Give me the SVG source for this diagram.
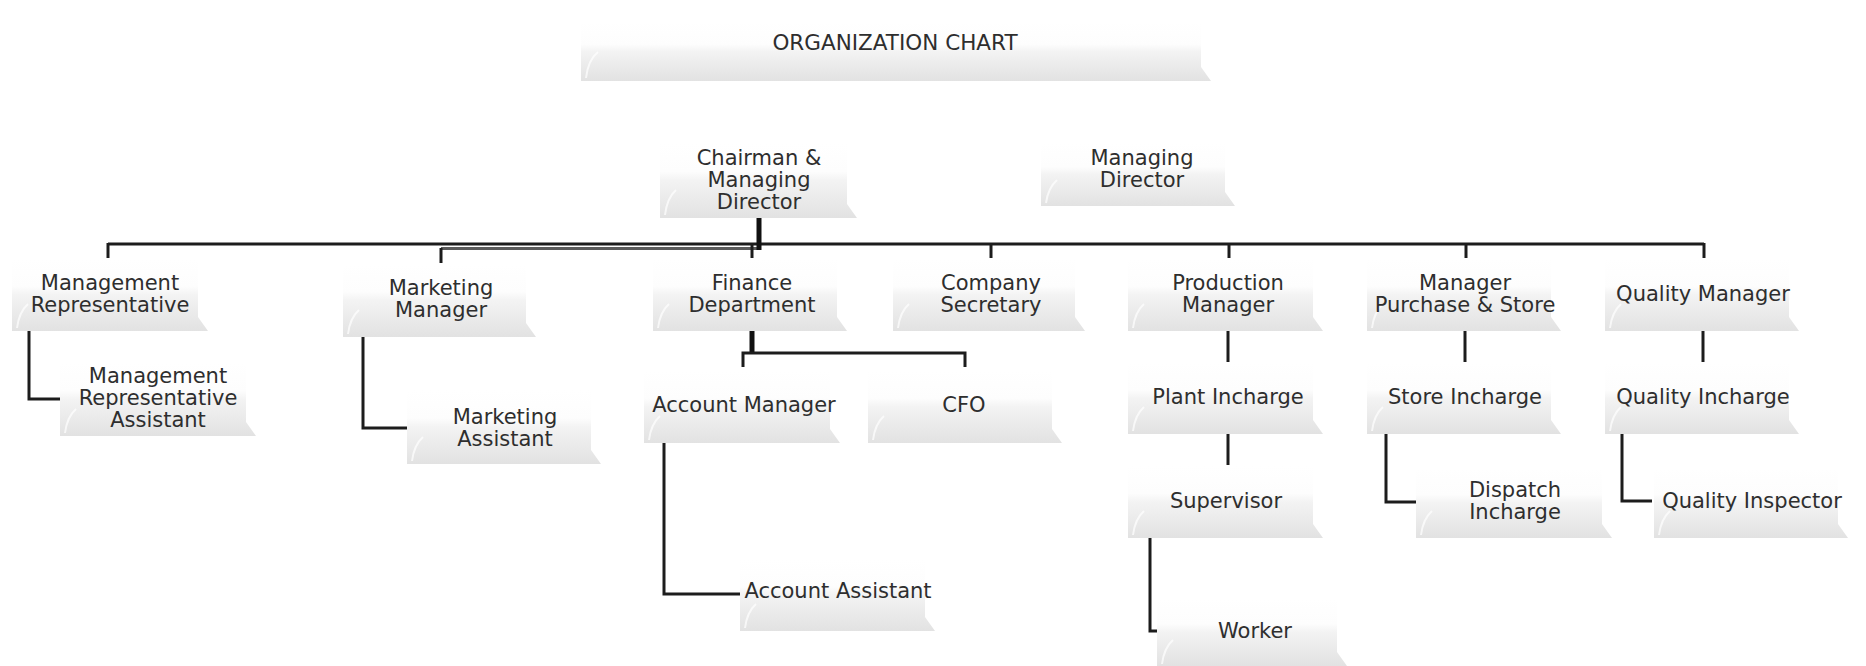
<svg xmlns="http://www.w3.org/2000/svg" width="1866" height="666" viewBox="0 0 1866 666">
<defs>
<linearGradient id="bev" x1="0" y1="0" x2="0" y2="1">
<stop offset="0" stop-color="#ffffff"/>
<stop offset="0.38" stop-color="#fdfdfd"/>
<stop offset="0.5" stop-color="#f3f3f3"/>
<stop offset="1" stop-color="#e2e2e2"/>
</linearGradient>
<style>
.box{fill:url(#bev);}
.hl{fill:none;stroke:#ffffff;stroke-width:2;opacity:0.7;}
.t{font-family:"DejaVu Sans",Verdana,sans-serif;font-size:21px;fill:#2e2e2e;text-anchor:middle;}
.tt{font-family:"DejaVu Sans",Verdana,sans-serif;font-size:21.5px;fill:#2e2e2e;text-anchor:middle;}
.c{fill:none;stroke:#1c1c1c;stroke-width:3;}
.ct{fill:none;stroke:#111;stroke-width:5;}
</style>
</defs>
<rect width="1866" height="666" fill="#ffffff"/>

<g id="connectors">
<line class="c" x1="108" y1="244" x2="1704" y2="244"/>
<line x1="441" y1="248.5" x2="759" y2="248.5" stroke="#5a5a5a" stroke-width="3"/>
<line class="ct" x1="759" y1="218" x2="759" y2="250"/>
<line class="c" x1="108" y1="243" x2="108" y2="258"/>
<line class="c" x1="441" y1="248" x2="441" y2="263"/>
<line class="c" x1="752" y1="243" x2="752" y2="258"/>
<line class="c" x1="991" y1="243" x2="991" y2="258"/>
<line class="c" x1="1229" y1="243" x2="1229" y2="258"/>
<line class="c" x1="1466" y1="243" x2="1466" y2="258"/>
<line class="c" x1="1704" y1="243" x2="1704" y2="258"/>
<polyline class="c" points="29,331 29,399 60,399"/>
<polyline class="c" points="363,337 363,428 407,428"/>
<line class="ct" x1="752" y1="331" x2="752" y2="354"/>
<polyline class="c" points="743,367 743,353 965,353 965,367"/>
<polyline class="c" points="664,443 664,594 743,594"/>
<line class="c" x1="1228" y1="331" x2="1228" y2="362"/>
<line class="c" x1="1228" y1="434" x2="1228" y2="465"/>
<polyline class="c" points="1150,538 1150,631 1157,631"/>
<line class="c" x1="1465" y1="331" x2="1465" y2="362"/>
<polyline class="c" points="1386,434 1386,502 1416,502"/>
<line class="c" x1="1703" y1="331" x2="1703" y2="362"/>
<polyline class="c" points="1622,434 1622,501 1652,501"/>
</g>

<g id="title">
<path class="box" d="M581,22 H1201 V67 L1211,81 H581 Z"/>
<path class="hl" d="M586,78 Q588,60 598,52"/>
<text class="tt" x="895" y="50">ORGANIZATION CHART</text>
</g>

<g id="chairman">
<path class="box" d="M660,143 H847 V204 L857,218 H660 Z"/>
<path class="hl" d="M665,215 Q667,198 676,190"/>
<text class="t" x="759" y="165">Chairman &amp;</text>
<text class="t" x="759" y="187">Managing</text>
<text class="t" x="759" y="209">Director</text>
</g>

<g id="managing-director">
<path class="box" d="M1041,143 H1225 V192 L1235,206 H1041 Z"/>
<path class="hl" d="M1046,203 Q1048,188 1057,180"/>
<text class="t" x="1142" y="165">Managing</text>
<text class="t" x="1142" y="187">Director</text>
</g>

<g id="mgmt-rep">
<path class="box" d="M12,259 H198 V317 L208,331 H12 Z"/>
<path class="hl" d="M17,328 Q19,312 28,304"/>
<text class="t" x="110" y="290">Management</text>
<text class="t" x="110" y="312">Representative</text>
</g>

<g id="marketing-manager">
<path class="box" d="M343,264 H526 V323 L536,337 H343 Z"/>
<path class="hl" d="M348,334 Q350,318 359,310"/>
<text class="t" x="441" y="295">Marketing</text>
<text class="t" x="441" y="317">Manager</text>
</g>

<g id="finance">
<path class="box" d="M653,259 H837 V317 L847,331 H653 Z"/>
<path class="hl" d="M658,328 Q660,312 669,304"/>
<text class="t" x="752" y="290">Finance</text>
<text class="t" x="752" y="312">Department</text>
</g>

<g id="company-secretary">
<path class="box" d="M893,259 H1075 V317 L1085,331 H893 Z"/>
<path class="hl" d="M898,328 Q900,312 909,304"/>
<text class="t" x="991" y="290">Company</text>
<text class="t" x="991" y="312">Secretary</text>
</g>

<g id="production-manager">
<path class="box" d="M1128,259 H1313 V317 L1323,331 H1128 Z"/>
<path class="hl" d="M1133,328 Q1135,312 1144,304"/>
<text class="t" x="1228" y="290">Production</text>
<text class="t" x="1228" y="312">Manager</text>
</g>

<g id="purchase-store">
<path class="box" d="M1367,259 H1551 V317 L1561,331 H1367 Z"/>
<path class="hl" d="M1372,328 Q1374,312 1383,304"/>
<text class="t" x="1465" y="290">Manager</text>
<text class="t" x="1465" y="312">Purchase &amp; Store</text>
</g>

<g id="quality-manager">
<path class="box" d="M1605,259 H1789 V317 L1799,331 H1605 Z"/>
<path class="hl" d="M1610,328 Q1612,312 1621,304"/>
<text class="t" x="1703" y="301">Quality Manager</text>
</g>

<g id="mgmt-rep-assistant">
<path class="box" d="M60,363 H246 V422 L256,436 H60 Z"/>
<path class="hl" d="M65,433 Q67,417 76,409"/>
<text class="t" x="158" y="383">Management</text>
<text class="t" x="158" y="405">Representative</text>
<text class="t" x="158" y="427">Assistant</text>
</g>

<g id="marketing-assistant">
<path class="box" d="M407,390 H591 V450 L601,464 H407 Z"/>
<path class="hl" d="M412,461 Q414,445 423,437"/>
<text class="t" x="505" y="424">Marketing</text>
<text class="t" x="505" y="446">Assistant</text>
</g>

<g id="account-manager">
<path class="box" d="M644,371 H830 V429 L840,443 H644 Z"/>
<path class="hl" d="M649,440 Q651,424 660,416"/>
<text class="t" x="744" y="412">Account Manager</text>
</g>

<g id="cfo">
<path class="box" d="M868,371 H1052 V429 L1062,443 H868 Z"/>
<path class="hl" d="M873,440 Q875,424 884,416"/>
<text class="t" x="964" y="412">CFO</text>
</g>

<g id="account-assistant">
<path class="box" d="M740,559 H925 V617 L935,631 H740 Z"/>
<path class="hl" d="M745,628 Q747,612 756,604"/>
<text class="t" x="838" y="598">Account Assistant</text>
</g>

<g id="plant-incharge">
<path class="box" d="M1128,363 H1313 V420 L1323,434 H1128 Z"/>
<path class="hl" d="M1133,431 Q1135,415 1144,407"/>
<text class="t" x="1228" y="404">Plant Incharge</text>
</g>

<g id="supervisor">
<path class="box" d="M1128,466 H1313 V524 L1323,538 H1128 Z"/>
<path class="hl" d="M1133,535 Q1135,519 1144,511"/>
<text class="t" x="1226" y="508">Supervisor</text>
</g>

<g id="worker">
<path class="box" d="M1157,598 H1337 V652 L1347,666 H1157 Z"/>
<path class="hl" d="M1162,664 Q1164,648 1173,640"/>
<text class="t" x="1255" y="638">Worker</text>
</g>

<g id="store-incharge">
<path class="box" d="M1367,363 H1551 V420 L1561,434 H1367 Z"/>
<path class="hl" d="M1372,431 Q1374,415 1383,407"/>
<text class="t" x="1465" y="404">Store Incharge</text>
</g>

<g id="dispatch-incharge">
<path class="box" d="M1416,468 H1602 V524 L1612,538 H1416 Z"/>
<path class="hl" d="M1421,535 Q1423,519 1432,511"/>
<text class="t" x="1515" y="497">Dispatch</text>
<text class="t" x="1515" y="519">Incharge</text>
</g>

<g id="quality-incharge">
<path class="box" d="M1605,363 H1789 V420 L1799,434 H1605 Z"/>
<path class="hl" d="M1610,431 Q1612,415 1621,407"/>
<text class="t" x="1703" y="404">Quality Incharge</text>
</g>

<g id="quality-inspector">
<path class="box" d="M1654,468 H1838 V524 L1848,538 H1654 Z"/>
<path class="hl" d="M1659,535 Q1661,519 1670,511"/>
<text class="t" x="1752" y="508">Quality Inspector</text>
</g>
</svg>
